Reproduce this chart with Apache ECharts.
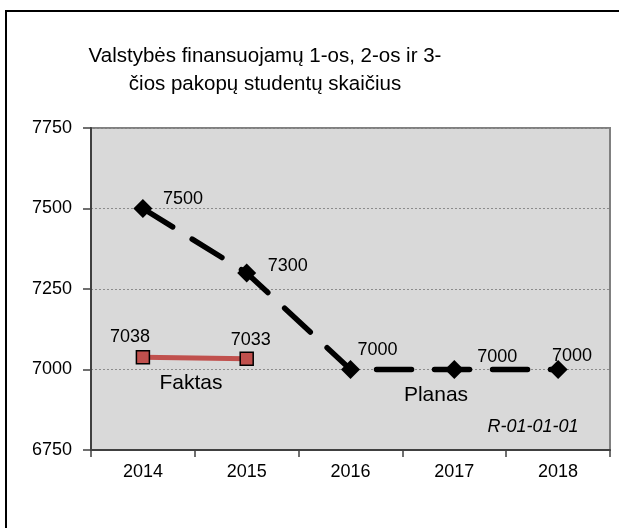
<!DOCTYPE html>
<html>
<head>
<meta charset="utf-8">
<script src="https://cdn.jsdelivr.net/npm/echarts@6/dist/echarts.min.js"></script>
<style>
  html, body { margin: 0; padding: 0; background: #fff; }
  #chart { width: 619px; height: 528px; }
</style>
</head>
<body>
<div id="chart"></div>
<script>
// data
const years = ['2014', '2015', '2016', '2017', '2018']
const faktas = [7038, 7033, null, null, null]
const planas = [7500, 7300, 7000, 7000, 7000]
const yMin = 6750
const yMax = 7750
const yStep = 250

// where each value label sits, relative to its marker (px)
const planasLabelShift = [[40, -9], [41, -7], [27, -19], [43, -12], [14, -13]]
const faktasLabelShift = [[-13, -20], [4, -19]]

const font = "'Liberation Sans', Arial, sans-serif"

function withLabels (values, shifts) {
  return values.map(function (v, i) {
    if (v === null) return null
    return { value: v, label: { offset: shifts[i] || [0, 0] } }
  })
}

function genOption () {
  return {
    animation: false,
    textStyle: { fontFamily: font },
    grid: {
      left: 91,
      right: 9,
      top: 128,
      bottom: 78,
      show: true,
      backgroundColor: '#d9d9d9',
      borderColor: '#808080',
      borderWidth: 2
    },
    xAxis: {
      type: 'category',
      data: years,
      boundaryGap: true,
      axisLine: { lineStyle: { color: '#404040', width: 2 } },
      axisTick: { show: true, length: 7, lineStyle: { color: '#404040', width: 1.5 } },
      axisLabel: { color: '#000', fontSize: 18, fontFamily: font, margin: 13 }
    },
    yAxis: {
      type: 'value',
      min: yMin,
      max: yMax,
      interval: yStep,
      axisLine: { show: true, lineStyle: { color: '#404040', width: 2 } },
      axisTick: { show: true, length: 8, lineStyle: { color: '#404040', width: 1.5 } },
      axisLabel: {
        color: '#000',
        fontSize: 18,
        fontFamily: font,
        margin: 19,
        formatter: function (v) { return String(v) }
      },
      splitLine: { lineStyle: { color: '#8c8c8c', type: [2, 2], width: 1 } }
    },
    series: [
      {
        name: 'Planas',
        type: 'line',
        data: withLabels(planas, planasLabelShift),
        symbol: 'diamond',
        symbolSize: 19,
        itemStyle: { color: '#000' },
        lineStyle: { color: '#000', width: 5.5, type: [35, 23], cap: 'round' },
        label: {
          show: true,
          position: 'inside',
          color: '#000',
          fontSize: 18,
          fontFamily: font
        },
        z: 3
      },
      {
        name: 'Faktas',
        type: 'line',
        data: withLabels(faktas, faktasLabelShift),
        symbol: 'rect',
        symbolSize: 13,
        itemStyle: { color: '#c0504d', borderColor: '#000', borderWidth: 1.5 },
        lineStyle: { color: '#c0504d', width: 5 },
        label: {
          show: true,
          position: 'inside',
          color: '#000',
          fontSize: 18,
          fontFamily: font
        },
        z: 4
      }
    ],
    graphic: [
      {
        type: 'rect',
        shape: { x: 6, y: 11, width: 700, height: 600 },
        style: { fill: null, stroke: '#000', lineWidth: 2 },
        silent: true
      },
      {
        type: 'text',
        x: 265,
        y: 42,
        style: {
          text: 'Valstybės finansuojamų 1-os, 2-os ir 3-\nčios pakopų studentų skaičius',
          font: '20.5px ' + font,
          fill: '#000',
          align: 'center',
          verticalAlign: 'top',
          lineHeight: 28
        }
      },
      {
        type: 'text',
        x: 191,
        y: 383,
        z: 10,
        style: { text: 'Faktas', font: '21px ' + font, fill: '#000', align: 'center', verticalAlign: 'middle' }
      },
      {
        type: 'text',
        x: 436,
        y: 395,
        z: 10,
        style: { text: 'Planas', font: '21px ' + font, fill: '#000', align: 'center', verticalAlign: 'middle' }
      },
      {
        type: 'text',
        x: 533,
        y: 427,
        z: 10,
        style: { text: 'R-01-01-01', font: 'italic 18px ' + font, fill: '#000', align: 'center', verticalAlign: 'middle' }
      }
    ]
  }
}

const chart = echarts.init(document.getElementById('chart'))
chart.setOption(genOption())
</script>
</body>
</html>
